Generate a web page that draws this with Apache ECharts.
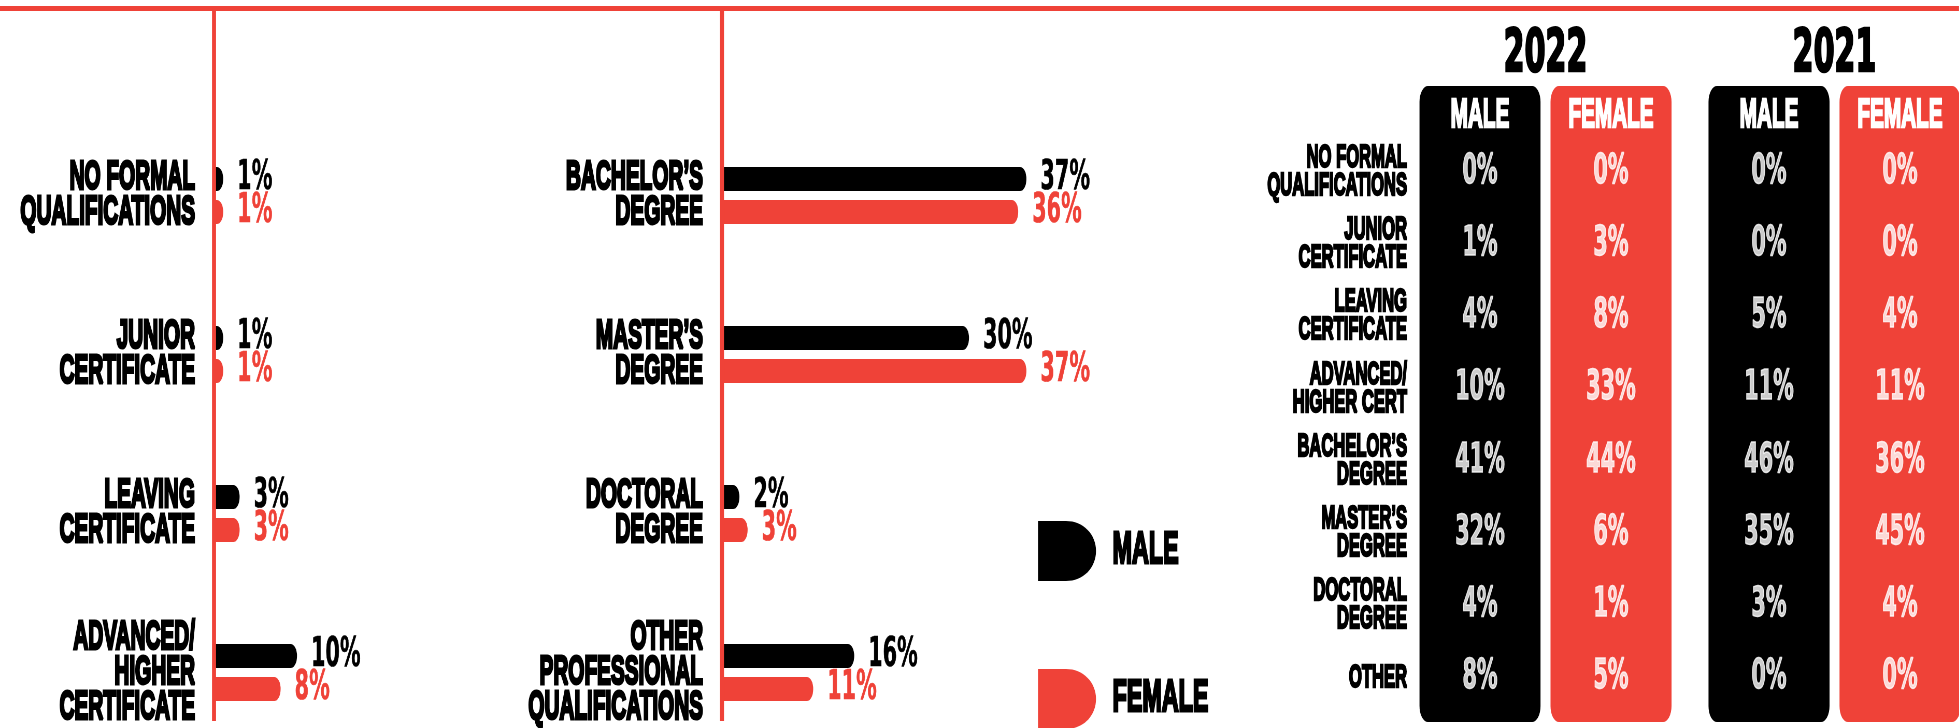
<!DOCTYPE html>
<html>
<head>
<meta charset="utf-8">
<script src="https://cdn.jsdelivr.net/npm/echarts@6/dist/echarts.min.js"></script>
<style>
html, body { margin: 0; padding: 0; overflow: hidden; background: #fff; }
#chart { height: 728px; transform-origin: 0 0; }
</style>
</head>
<body>
<div id="chart"></div>
<script>
// bar panels
var leftCats = ['NO FORMAL\nQUALIFICATIONS', 'JUNIOR\nCERTIFICATE', 'LEAVING\nCERTIFICATE', 'ADVANCED/\nHIGHER\nCERTIFICATE'];
var maleLeft = [1, 1, 3, 10];
var femaleLeft = [1, 1, 3, 8];
var rightCats = ['BACHELOR’S\nDEGREE', 'MASTER’S\nDEGREE', 'DOCTORAL\nDEGREE', 'OTHER\nPROFESSIONAL\nQUALIFICATIONS'];
var maleRight = [37, 30, 2, 16];
var femaleRight = [36, 37, 3, 11];

// comparison table
var years = ['2022', '2021'];
var genders = ['MALE', 'FEMALE'];
var tableRows = ['NO FORMAL\nQUALIFICATIONS', 'JUNIOR\nCERTIFICATE', 'LEAVING\nCERTIFICATE', 'ADVANCED/\nHIGHER CERT',
    'BACHELOR’S\nDEGREE', 'MASTER’S\nDEGREE', 'DOCTORAL\nDEGREE', 'OTHER'];
var male2022 = [0, 1, 4, 10, 41, 32, 4, 8];
var female2022 = [0, 3, 8, 33, 44, 6, 1, 5];
var male2021 = [0, 0, 5, 11, 46, 35, 3, 0];
var female2021 = [0, 0, 4, 11, 36, 45, 4, 0];

var RED = '#ef4238';
var FONT = "'Liberation Sans', Arial, sans-serif";
var NUMFONT = "'DejaVu Sans', 'Liberation Sans', sans-serif";

// the poster uses a very condensed face: draw wide, then squeeze the canvas
var K = 1.93;
var W = 1959;
function sx(v) { return v * K; }

var dom = document.getElementById('chart');
dom.style.width = sx(W) + 'px';
dom.style.transform = 'scaleX(' + (1 / K) + ')';

var myChart = echarts.init(dom);

var dShape = 'path://M0,0L28,0C45,0 58,13 58,30C58,47 45,60 28,60L0,60Z';

function heavy(color, size, family, border) {
    return {
        color: color, fontSize: size, fontWeight: 'bold', fontFamily: family,
        textBorderColor: color, textBorderWidth: border
    };
}

function barSeries(name, data, color, axis) {
    return {
        name: name,
        type: 'bar',
        xAxisIndex: axis,
        yAxisIndex: axis,
        data: data,
        barWidth: 24,
        barGap: '37%',
        itemStyle: { color: color, borderRadius: [0, 12, 12, 0] },
        label: Object.assign({
            show: true,
            position: 'right',
            distance: sx(14),
            formatter: '{c}%'
        }, heavy(color, 40, NUMFONT, 0.6))
    };
}

function cellSeries(values, axis) {
    return {
        type: 'scatter',
        xAxisIndex: axis,
        yAxisIndex: axis,
        symbolSize: 1,
        itemStyle: { color: 'rgba(0,0,0,0)' },
        silent: true,
        z: 5,
        data: values,
        label: Object.assign({
            show: true,
            position: 'inside',
            formatter: function (p) { return p.value[2] + '%'; }
        }, heavy('#fff', 40, NUMFONT, 1.4))
    };
}

function cells(male, female) {
    var out = [];
    male.forEach(function (v, i) { out.push([0, i, v]); });
    female.forEach(function (v, i) { out.push([1, i, v]); });
    return out;
}

function pillAxisX(grid, year) {
    return {
        gridIndex: grid, type: 'category', data: genders, position: 'top', z: 10,
        axisLine: { show: false }, axisTick: { show: false },
        axisLabel: Object.assign({ inside: true, margin: 10 }, heavy('#fff', 40, FONT, 2.4)),
        name: year, nameLocation: 'middle', nameGap: 1,
        nameTextStyle: heavy('#000', 58, NUMFONT, 2.6)
    };
}

var catLabel = Object.assign({ lineHeight: 35, interval: 0 }, heavy('#000', 40, FONT, 3));

var option = {
    animation: false,
    textStyle: { fontFamily: FONT },
    graphic: [
        { type: 'rect', shape: { x: 0, y: 6, width: sx(W), height: 5 }, style: { fill: RED }, z: 10 },
        { type: 'rect', shape: { x: sx(212), y: 9, width: sx(4), height: 712 }, style: { fill: RED }, z: 10 },
        { type: 'rect', shape: { x: sx(720), y: 9, width: sx(4), height: 712 }, style: { fill: RED }, z: 10 }
    ],
    legend: {
        data: [{ name: 'MALE', icon: dShape }, { name: 'FEMALE', icon: dShape }],
        orient: 'vertical',
        left: sx(1038),
        top: 521,
        height: 260,
        padding: 0,
        itemWidth: sx(58),
        itemHeight: 60,
        itemGap: 88,
        symbolKeepAspect: false,
        selectedMode: false,
        textStyle: Object.assign({ padding: [0, 0, 0, sx(14)] }, heavy('#000', 45, FONT, 3))
    },
    grid: [
        { left: sx(215), top: 116, width: sx(328), height: 636, outerBoundsMode: 'none' },
        { left: sx(723), top: 116, width: sx(328), height: 636, outerBoundsMode: 'none' },
        { left: sx(1414.5), top: 86, width: sx(262), height: 636, outerBoundsMode: 'none' },
        { left: sx(1414.5), top: 136, width: sx(262), height: 578, outerBoundsMode: 'none' },
        { left: sx(1703.5), top: 86, width: sx(262), height: 636, outerBoundsMode: 'none' },
        { left: sx(1703.5), top: 136, width: sx(262), height: 578, outerBoundsMode: 'none' }
    ],
    xAxis: [
        { gridIndex: 0, type: 'value', min: 0, max: 40, show: false },
        { gridIndex: 1, type: 'value', min: 0, max: 40, show: false },
        pillAxisX(2, years[0]),
        { gridIndex: 3, type: 'category', data: genders, show: false },
        pillAxisX(4, years[1]),
        { gridIndex: 5, type: 'category', data: genders, show: false }
    ],
    yAxis: [
        { gridIndex: 0, type: 'category', data: leftCats, inverse: true,
          axisLine: { show: false }, axisTick: { show: false },
          axisLabel: Object.assign({ margin: sx(20) }, catLabel) },
        { gridIndex: 1, type: 'category', data: rightCats, inverse: true,
          axisLine: { show: false }, axisTick: { show: false },
          axisLabel: Object.assign({ margin: sx(20) }, catLabel) },
        { gridIndex: 2, type: 'value', min: 0, max: 1, show: false },
        { gridIndex: 3, type: 'category', data: tableRows, inverse: true,
          axisLine: { show: false }, axisTick: { show: false },
          axisLabel: Object.assign({ margin: sx(7.5), lineHeight: 28, interval: 0 }, heavy('#000', 32, FONT, 2.4)) },
        { gridIndex: 4, type: 'value', min: 0, max: 1, show: false },
        { gridIndex: 5, type: 'category', data: tableRows, inverse: true, show: false }
    ],
    series: [
        barSeries('MALE', maleLeft, '#000', 0),
        barSeries('FEMALE', femaleLeft, RED, 0),
        barSeries('MALE', maleRight, '#000', 1),
        barSeries('FEMALE', femaleRight, RED, 1),
        {
            type: 'bar', xAxisIndex: 2, yAxisIndex: 2, barWidth: sx(121), silent: true,
            itemStyle: { borderRadius: 16 },
            data: [{ value: 1, itemStyle: { color: '#000' } }, { value: 1, itemStyle: { color: RED } }]
        },
        {
            type: 'bar', xAxisIndex: 4, yAxisIndex: 4, barWidth: sx(121), silent: true,
            itemStyle: { borderRadius: 16 },
            data: [{ value: 1, itemStyle: { color: '#000' } }, { value: 1, itemStyle: { color: RED } }]
        },
        cellSeries(cells(male2022, female2022), 3),
        cellSeries(cells(male2021, female2021), 5)
    ]
};
myChart.setOption(option);
window.addEventListener('resize', function () {
    myChart.resize();
});
</script>
</body>
</html>
